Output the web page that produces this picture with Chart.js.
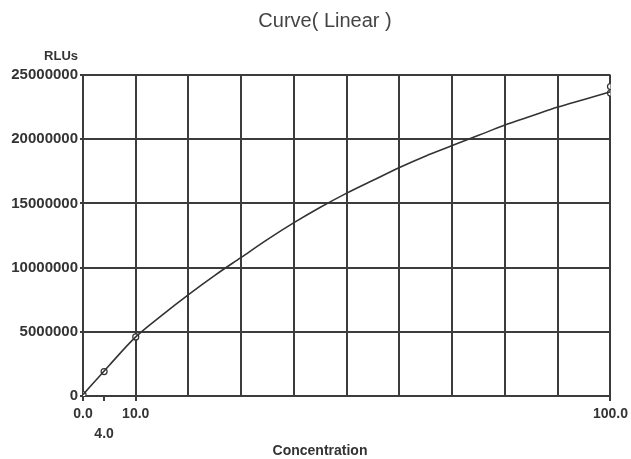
<!DOCTYPE html>
<html>
<head>
<meta charset="utf-8">
<script src="https://cdn.jsdelivr.net/npm/chart.js@4/dist/chart.umd.min.js"></script>
<style>
  html, body { margin: 0; padding: 0; background: #ffffff; }
  #wrap { width: 631px; height: 459px; position: relative; }
</style>
</head>
<body>
<div id="wrap"><canvas id="c" width="631" height="459"></canvas></div>
<script>
// ---- data ----
const chartTitle = 'Curve( Linear )';
const yAxisLabel = 'RLUs';
const xAxisLabel = 'Concentration';

const curveX = [0, 5, 10, 15, 20, 25, 30, 35, 40, 45, 50, 55, 60, 65, 70, 75, 80, 85, 90, 95, 100];
const curveY = [100000, 2400000, 4600000, 6300000, 7900000, 9400000, 10800000, 12200000, 13500000, 14700000,
                15800000, 16800000, 17800000, 18700000, 19500000, 20300000, 21100000, 21800000, 22500000, 23100000, 23700000];

const standardX = [0, 4, 10, 100, 100];
const standardY = [100000, 1900000, 4600000, 23600000, 24100000];

const xTickValues = [0, 4, 10, 20, 30, 40, 50, 60, 70, 80, 90, 100];
const xTickLabels = { 0: '0.0', 4: ['', '4.0'], 10: '10.0', 100: '100.0' };
const xTickMarks = [0, 4, 10, 100];
const yMin = 0, yMax = 25000000, yStep = 5000000;

// ---- chart ----
const ink = '#333333';
const gridInk = '#3c3c3c';

const textPlugin = {
  id: 'textPlugin',
  afterDraw(chart) {
    const ctx = chart.ctx;
    ctx.save();
    ctx.fillStyle = '#444444';
    ctx.font = '20px "Liberation Sans", Arial, sans-serif';
    ctx.textAlign = 'center';
    ctx.textBaseline = 'alphabetic';
    ctx.fillText(chartTitle, 325, 27);
    ctx.fillStyle = ink;
    ctx.font = 'bold 13px "Liberation Sans", Arial, sans-serif';
    ctx.textAlign = 'right';
    ctx.fillText(yAxisLabel, 78, 60);
    ctx.font = 'bold 14px "Liberation Sans", Arial, sans-serif';
    ctx.textAlign = 'center';
    ctx.fillText(xAxisLabel, 320, 455);
    ctx.restore();
  }
};

new Chart(document.getElementById('c'), {
  type: 'scatter',
  data: {
    datasets: [
      {
        label: 'curve',
        data: curveX.map((x, i) => ({ x: x, y: curveY[i] })),
        showLine: true,
        borderColor: ink,
        borderWidth: 1.6,
        pointRadius: 0,
        cubicInterpolationMode: 'monotone',
        fill: false
      },
      {
        label: 'standards',
        data: standardX.map((x, i) => ({ x: x, y: standardY[i] })),
        showLine: false,
        pointRadius: 3,
        pointBorderWidth: 1.2,
        pointBorderColor: ink,
        pointBackgroundColor: '#ffffff'
      }
    ]
  },
  options: {
    responsive: false,
    animation: false,
    devicePixelRatio: 1,
    layout: { padding: { top: 75, right: 17, bottom: 0, left: 0 } },
    plugins: {
      legend: { display: false },
      title: { display: false },
      tooltip: { enabled: false }
    },
    scales: {
      x: {
        type: 'linear',
        min: 0,
        max: 100,
        afterBuildTicks(scale) { scale.ticks = xTickValues.map(v => ({ value: v })); },
        afterFit(scale) { scale.height = 63; },
        border: { display: true, color: gridInk, width: 2 },
        grid: {
          color: ctx => (ctx.tick && ctx.tick.value === 4) ? 'rgba(0,0,0,0)' : gridInk,
          lineWidth: 2,
          drawTicks: true,
          tickLength: 5,
          tickColor: ctx => (ctx.tick && xTickMarks.includes(ctx.tick.value)) ? gridInk : 'rgba(0,0,0,0)',
          tickWidth: 2
        },
        ticks: {
          autoSkip: false,
          maxRotation: 0,
          padding: 3,
          color: ink,
          font: { family: '"Liberation Sans", Arial, sans-serif', size: 14, weight: 'bold', lineHeight: 1.43 },
          callback: v => (xTickLabels[v] !== undefined ? xTickLabels[v] : '')
        },
        title: { display: false, text: xAxisLabel }
      },
      y: {
        type: 'linear',
        min: yMin,
        max: yMax,
        afterFit(scale) { scale.width = 83; },
        border: { display: true, color: gridInk, width: 2 },
        grid: {
          color: gridInk,
          lineWidth: 2,
          drawTicks: true,
          tickLength: 3,
          tickWidth: 2
        },
        ticks: {
          stepSize: yStep,
          padding: 2,
          color: ink,
          font: { family: '"Liberation Sans", Arial, sans-serif', size: 15, weight: 'bold' },
          callback: v => String(v)
        }
      }
    }
  },
  plugins: [textPlugin]
});
</script>
</body>
</html>
